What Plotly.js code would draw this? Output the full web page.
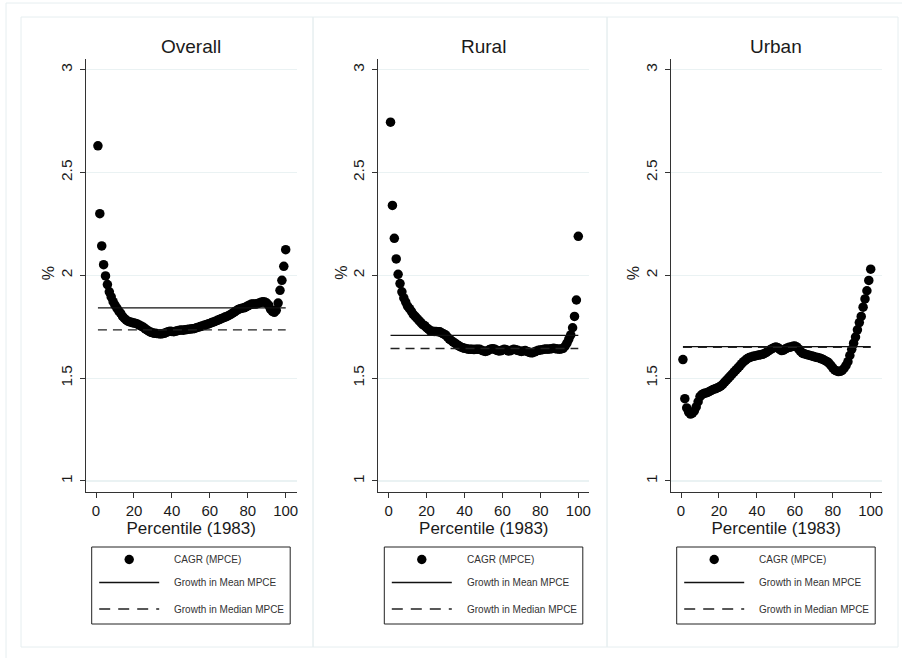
<!DOCTYPE html>
<html>
<head>
<meta charset="utf-8">
<script src="https://cdn.plot.ly/plotly-3.0.1.min.js"></script>
<style>html,body{margin:0;padding:0;background:#fff;}#chart{width:902px;height:658px;}</style>
</head>
<body>
<div id="chart"></div>
<script>
// ---------------- DATA ----------------
var percentile = [1,2,3,4,5,6,7,8,9,10,11,12,13,14,15,16,17,18,19,20,21,22,23,24,25,26,27,28,29,30,31,32,33,34,35,36,37,38,39,40,41,42,43,44,45,46,47,48,49,50,51,52,53,54,55,56,57,58,59,60,61,62,63,64,65,66,67,68,69,70,71,72,73,74,75,76,77,78,79,80,81,82,83,84,85,86,87,88,89,90,91,92,93,94,95,96,97,98,99,100];

var overallCAGR = [2.63,2.30,2.143,2.052,1.997,1.955,1.92,1.895,1.872,1.855,1.84,1.826,1.815,1.80,1.79,1.782,1.776,1.773,1.77,1.768,1.766,1.762,1.757,1.752,1.747,1.74,1.733,1.727,1.723,1.72,1.718,1.717,1.716,1.715,1.716,1.718,1.722,1.726,1.728,1.727,1.726,1.728,1.731,1.733,1.734,1.733,1.735,1.737,1.738,1.739,1.74,1.742,1.745,1.748,1.751,1.754,1.757,1.76,1.763,1.766,1.77,1.773,1.777,1.781,1.785,1.789,1.793,1.797,1.80,1.805,1.81,1.816,1.822,1.828,1.834,1.838,1.84,1.842,1.846,1.851,1.856,1.86,1.861,1.86,1.862,1.866,1.869,1.871,1.87,1.865,1.855,1.835,1.825,1.82,1.83,1.865,1.927,1.976,2.044,2.125];

var ruralCAGR = [2.745,2.34,2.18,2.08,2.005,1.96,1.92,1.89,1.87,1.85,1.838,1.825,1.81,1.80,1.79,1.78,1.77,1.76,1.755,1.745,1.738,1.73,1.728,1.727,1.727,1.726,1.725,1.72,1.715,1.71,1.70,1.69,1.683,1.676,1.67,1.663,1.657,1.652,1.648,1.645,1.643,1.641,1.64,1.64,1.639,1.64,1.641,1.64,1.636,1.632,1.63,1.632,1.638,1.642,1.643,1.64,1.635,1.632,1.633,1.637,1.64,1.638,1.632,1.633,1.637,1.64,1.638,1.635,1.632,1.63,1.632,1.634,1.63,1.626,1.623,1.624,1.628,1.632,1.635,1.637,1.638,1.64,1.642,1.641,1.642,1.643,1.645,1.643,1.642,1.641,1.642,1.645,1.655,1.67,1.69,1.71,1.745,1.80,1.88,2.19];

var urbanCAGR = [1.59,1.40,1.355,1.335,1.325,1.33,1.34,1.36,1.385,1.41,1.42,1.425,1.428,1.43,1.435,1.44,1.445,1.448,1.452,1.456,1.462,1.47,1.48,1.49,1.50,1.51,1.52,1.53,1.54,1.55,1.56,1.57,1.58,1.588,1.595,1.60,1.603,1.606,1.608,1.61,1.612,1.614,1.616,1.62,1.625,1.632,1.638,1.643,1.648,1.652,1.648,1.64,1.634,1.636,1.642,1.647,1.65,1.652,1.655,1.656,1.652,1.642,1.63,1.622,1.618,1.615,1.613,1.61,1.608,1.605,1.602,1.60,1.598,1.594,1.59,1.585,1.58,1.573,1.562,1.55,1.54,1.535,1.532,1.533,1.538,1.548,1.562,1.58,1.61,1.64,1.67,1.70,1.735,1.77,1.80,1.845,1.885,1.925,1.975,2.03];

var panelTitles = ['Overall', 'Rural', 'Urban'];
var meanGrowth = [1.842, 1.708, 1.653];
var medianGrowth = [1.735, 1.644, 1.650];
var lineSpan = [1, 100];
var legendLabels = ['CAGR (MPCE)', 'Growth in Mean MPCE', 'Growth in Median MPCE'];
var xTicks = [0, 20, 40, 60, 80, 100];
var yTicks = [1, 1.5, 2, 2.5, 3];
var yTickText = ['1', '1.5', '2', '2.5', '3'];
var yTitle = '%';
var xTitle = 'Percentile (1983)';

// ---------------- LAYOUT HELPERS ----------------
var W = 902, H = 658;
function px(x) { return x / W; }
function py(y) { return 1 - y / H; }

var seriesData = [overallCAGR, ruralCAGR, urbanCAGR];
var panelLeft = [21, 313, 607];
var panelRight = [313, 607, 898];
var plotLeft = [85.7, 378.3, 670.7];
var plotWidth = 211;
var plotTop = 59.3, plotBottom = 492;

var FONT = 'Liberation Sans, Arial, sans-serif';
var TXT = '#1a1a1a';
var traces = [];
var layout = {
  width: W, height: H,
  margin: {l: 0, r: 0, t: 0, b: 0},
  paper_bgcolor: '#ffffff',
  plot_bgcolor: '#ffffff',
  showlegend: false,
  font: {family: FONT, color: TXT},
  shapes: [],
  annotations: []
};

// outer faint frame (left/top) and panel frames
var FRAME = '#e6eef0';
layout.shapes.push({type: 'line', xref: 'paper', yref: 'paper', x0: px(6), x1: px(6), y0: py(3), y1: 0, line: {color: FRAME, width: 1}});
layout.shapes.push({type: 'line', xref: 'paper', yref: 'paper', x0: px(6), x1: 1, y0: py(3), y1: py(3), line: {color: FRAME, width: 1}});

for (var i = 0; i < 3; i++) {
  var sfx = i === 0 ? '' : String(i + 1);
  var xa = 'x' + sfx, ya = 'y' + sfx;

  layout.shapes.push({type: 'rect', xref: 'paper', yref: 'paper',
    x0: px(panelLeft[i]), x1: px(panelRight[i]), y0: py(647), y1: py(17),
    line: {color: FRAME, width: 1}, fillcolor: 'rgba(0,0,0,0)', layer: 'below'});

  traces.push({
    type: 'scatter', mode: 'markers', x: percentile, y: seriesData[i],
    xaxis: xa, yaxis: ya, name: legendLabels[0],
    marker: {color: '#000000', size: 9.5, line: {width: 0}},
    hoverinfo: 'x+y'
  });
  traces.push({
    type: 'scatter', mode: 'lines', x: lineSpan, y: [meanGrowth[i], meanGrowth[i]],
    xaxis: xa, yaxis: ya, name: legendLabels[1],
    line: {color: '#111111', width: 1.3}
  });
  traces.push({
    type: 'scatter', mode: 'lines', x: lineSpan, y: [medianGrowth[i], medianGrowth[i]],
    xaxis: xa, yaxis: ya, name: legendLabels[2],
    line: {color: '#222222', width: 1.3, dash: '9px,6px'}
  });

  var x0 = plotLeft[i], x1 = plotLeft[i] + plotWidth;
  layout['xaxis' + sfx] = {
    domain: [px(x0), px(x1)], anchor: ya,
    range: [-5.45, 105.8], tickvals: xTicks, ticktext: xTicks.map(String),
    ticks: 'outside', ticklen: 5, tickwidth: 1, tickcolor: '#333',
    showline: true, linecolor: '#333', linewidth: 1,
    showgrid: false, zeroline: false,
    tickfont: {size: 15, family: FONT, color: TXT},
    title: {text: xTitle, font: {size: 17, family: FONT, color: TXT}, standoff: 2},
    fixedrange: true
  };
  layout['yaxis' + sfx] = {
    domain: [py(plotBottom), py(plotTop)], anchor: xa,
    range: [0.946, 3.051], tickvals: yTicks, ticktext: yTickText,
    tickangle: -90,
    ticks: 'outside', ticklen: 5, tickwidth: 1, tickcolor: '#333',
    showline: true, linecolor: '#333', linewidth: 1,
    showgrid: true, gridcolor: '#eaf2f3', gridwidth: 1.2, zeroline: false,
    tickfont: {size: 15.5, family: FONT, color: TXT},
    ticklabelstandoff: 2,
    title: {text: '', font: {size: 16, family: FONT, color: TXT}},
    fixedrange: true
  };

  // y-axis title "%" placed like the Stata original
  layout.annotations.push({
    xref: 'paper', yref: 'paper', x: px(x0 - 37.5), y: py(273),
    xanchor: 'center', yanchor: 'middle', showarrow: false, textangle: -90,
    text: yTitle, font: {size: 16, family: FONT, color: TXT}
  });

  // panel title
  layout.annotations.push({
    xref: 'paper', yref: 'paper', x: px(x0 + plotWidth / 2), y: py(46),
    xanchor: 'center', yanchor: 'middle', showarrow: false,
    text: panelTitles[i], font: {size: 19, family: FONT, color: TXT}
  });

  // legend box (manual, Stata style)
  var bL = x0 + 6, bR = x1 - 6.5, bT = 547, bB = 624;
  layout.shapes.push({type: 'rect', xref: 'paper', yref: 'paper',
    x0: px(bL), x1: px(bR), y0: py(bB), y1: py(bT),
    line: {color: '#222', width: 1}, fillcolor: '#ffffff'});
  var rows = [559.5, 582.5, 609];
  var r = 4.7;
  var mx = bL + 37.5;
  layout.shapes.push({type: 'circle', xref: 'paper', yref: 'paper',
    x0: px(mx - r), x1: px(mx + r), y0: py(rows[0] + r), y1: py(rows[0] - r),
    line: {color: '#000', width: 0}, fillcolor: '#000'});
  layout.shapes.push({type: 'line', xref: 'paper', yref: 'paper',
    x0: px(bL + 7.5), x1: px(bL + 67.5), y0: py(rows[1]), y1: py(rows[1]),
    line: {color: '#111', width: 1.3}});
  layout.shapes.push({type: 'line', xref: 'paper', yref: 'paper',
    x0: px(bL + 7.5), x1: px(bL + 67.5), y0: py(rows[2]), y1: py(rows[2]),
    line: {color: '#222', width: 1.3, dash: '11px,8px'}});
  for (var k = 0; k < 3; k++) {
    layout.annotations.push({
      xref: 'paper', yref: 'paper', x: px(bL + 80.5), y: py(rows[k]),
      xanchor: 'left', yanchor: 'middle', showarrow: false,
      text: legendLabels[k], font: {size: 10, family: FONT, color: '#333'}
    });
  }
}

Plotly.newPlot('chart', traces, layout, {staticPlot: true, displayModeBar: false});
</script>
</body>
</html>
